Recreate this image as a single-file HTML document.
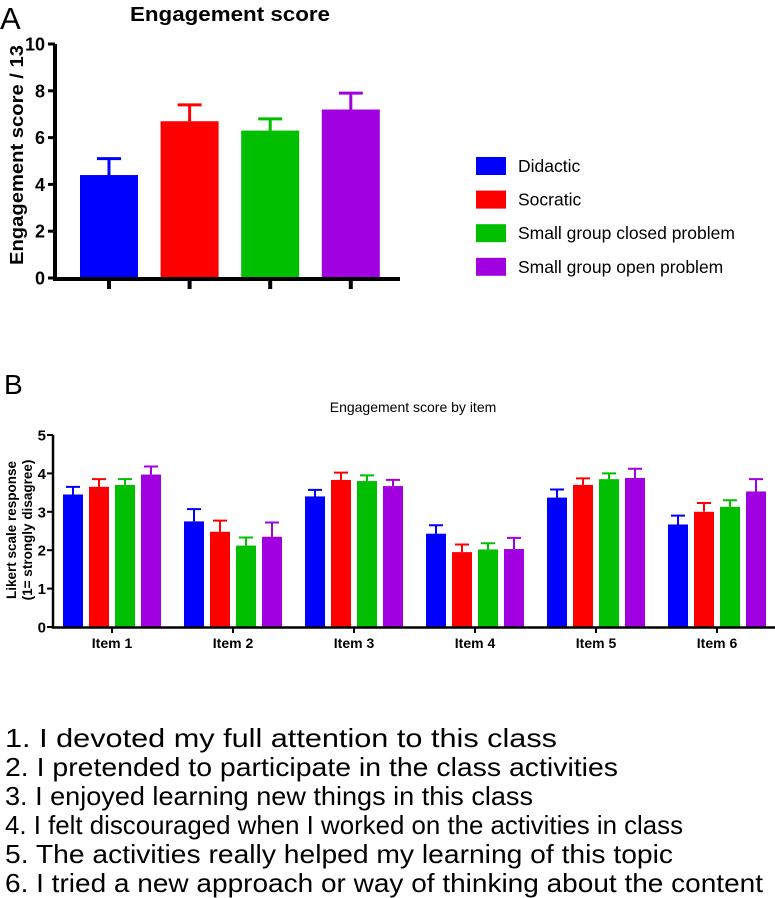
<!DOCTYPE html>
<html><head><meta charset="utf-8"><style>
body{margin:0;background:#fff;}
svg{display:block;font-family:"Liberation Sans",Arial,sans-serif;}
</style></head><body>
<svg id="fig" width="775" height="898" viewBox="0 0 775 898">
<text x="0" y="29" font-size="31">A</text>
<text x="130" y="21" font-size="20" font-weight="bold" textLength="200" lengthAdjust="spacingAndGlyphs">Engagement score</text>
<text transform="translate(23,155) rotate(-90)" font-size="18" font-weight="bold" text-anchor="middle" textLength="220" lengthAdjust="spacingAndGlyphs">Engagement score / 13</text>
<g id="chartA"></g>
<g id="legend"></g>
<text x="4" y="394" font-size="28">B</text>
<text x="413" y="412" font-size="14" text-anchor="middle">Engagement score by item</text>
<text transform="translate(16,530) rotate(-90)" font-size="13.5" font-weight="bold" text-anchor="middle"><tspan x="0" dy="0">Likert scale response</tspan><tspan x="0" dy="16">(1= strongly disagree)</tspan></text>
<g id="chartB"></g>
<g font-size="26">
<text x="5" y="747" textLength="552" lengthAdjust="spacingAndGlyphs">1. I devoted my full attention to this class</text>
<text x="5" y="776" textLength="613" lengthAdjust="spacingAndGlyphs">2. I pretended to participate in the class activities</text>
<text x="5" y="805" textLength="528" lengthAdjust="spacingAndGlyphs">3. I enjoyed learning new things in this class</text>
<text x="5" y="834" textLength="678" lengthAdjust="spacingAndGlyphs">4. I felt discouraged when I worked on the activities in class</text>
<text x="5" y="863" textLength="668" lengthAdjust="spacingAndGlyphs">5. The activities really helped my learning of this topic</text>
<text x="5" y="892" textLength="758" lengthAdjust="spacingAndGlyphs">6. I tried a new approach or way of thinking about the content</text>
</g>
</svg>
<script>
const seriesNames = ["Didactic","Socratic","Small group closed problem","Small group open problem"];
const colors = ["#0000ff","#ff0000","#00bf00","#a100e0"];
const aMeans = [4.4, 6.7, 6.3, 7.2];
const aErrTops = [5.1, 7.4, 6.8, 7.9];
const aTicks = [0,2,4,6,8,10];
const items = ["Item 1","Item 2","Item 3","Item 4","Item 5","Item 6"];
const didacticVals = [3.45, 2.75, 3.4, 2.43, 3.37, 2.67];
const socraticVals = [3.65, 2.48, 3.83, 1.95, 3.7, 3.0];
const closedVals = [3.7, 2.12, 3.8, 2.02, 3.85, 3.13];
const openVals = [3.97, 2.35, 3.67, 2.03, 3.88, 3.53];
const didacticErr = [3.65, 3.07, 3.57, 2.65, 3.58, 2.9];
const socraticErr = [3.85, 2.77, 4.02, 2.15, 3.87, 3.23];
const closedErr = [3.85, 2.33, 3.95, 2.18, 4.0, 3.3];
const openErr = [4.18, 2.72, 3.83, 2.32, 4.12, 3.85];
const bTicks = [0,1,2,3,4,5];

const NS="http://www.w3.org/2000/svg";
function mk(tag, attrs, parent){const e=document.createElementNS(NS,tag);for(const k in attrs)e.setAttribute(k,attrs[k]);parent.appendChild(e);return e;}

// Chart A
const gA=document.getElementById('chartA');
const yA=v=>278-v*23.4;
const xA=i=>109+i*80.6;
aTicks.forEach(t=>{
  const l=mk('line',{x1:48,x2:55,y1:yA(t),y2:yA(t),stroke:'#000','stroke-width':3},gA);
  
  
  const tx=mk('text',{x:45,y:yA(t)+6.5,'font-size':18,'font-weight':'bold','text-anchor':'end'},gA);
  tx.textContent=t;
  
  
});
aMeans.forEach((v,i)=>{
  const c=colors[i], x=xA(i);
  const e=mk('path',{d:`M${x},${yA(v)} V${yA(aErrTops[i])} M${x-12},${yA(aErrTops[i])} H${x+12}`,stroke:c,'stroke-width':3,fill:'none'},gA);
  
  
  const r=mk('rect',{x:x-29,y:yA(v),width:58,height:yA(0)-yA(v),fill:c},gA);
  
  
  const tk=mk('line',{x1:x,x2:x,y1:278,y2:289,stroke:'#000','stroke-width':4},gA);
  
  
});
const axA=mk('path',{d:`M55,${yA(10)} V279 H400`,stroke:'#000','stroke-width':4,fill:'none'},gA);



// Legend
const gL=document.getElementById('legend');
seriesNames.forEach((n,i)=>{
  const y=157+i*33.6;
  const r=mk('rect',{x:476,y:y,width:30,height:18,fill:colors[i]},gL);
  
  
  const t=mk('text',{x:518,y:y+15,'font-size':17.5},gL);
  t.textContent=n;
  
  
});

// Chart B
const gB=document.getElementById('chartB');
const yB=v=>627-v*38.4;
const xB=i=>112+i*121;
const offs=[-39,-13,13,39];
const vals=[didacticVals,socraticVals,closedVals,openVals];
const errs=[didacticErr,socraticErr,closedErr,openErr];
bTicks.forEach(t=>{
  const l=mk('line',{x1:47,x2:53,y1:yB(t),y2:yB(t),stroke:'#000','stroke-width':2},gB);
  
  
  const tx=mk('text',{x:46,y:yB(t)+5.5,'font-size':15,'font-weight':'bold','text-anchor':'end'},gB);
  tx.textContent=t;
  
  
});
items.forEach((it,g)=>{
  vals.forEach((arr,s)=>{
    const x=xB(g)+offs[s], v=arr[g], e=errs[s][g];
    const eb=mk('path',{d:`M${x},${yB(v)} V${yB(e)} M${x-7},${yB(e)} H${x+7}`,stroke:colors[s],'stroke-width':2,fill:'none'},gB);
    
    
    const r=mk('rect',{x:x-10,y:yB(v),width:20,height:yB(0)-yB(v),fill:colors[s]},gB);
    
    
  });
  const tk=mk('line',{x1:xB(g),x2:xB(g),y1:627,y2:633,stroke:'#000','stroke-width':2},gB);
  
  
  const tx=mk('text',{x:xB(g),y:648,'font-size':14,'font-weight':'bold','text-anchor':'middle'},gB);
  tx.textContent=it;
  
  
});
const axB=mk('path',{d:`M53,${yB(5)} V627.5 H775`,stroke:'#000','stroke-width':2.5,fill:'none'},gB);


</script>
</body></html>
